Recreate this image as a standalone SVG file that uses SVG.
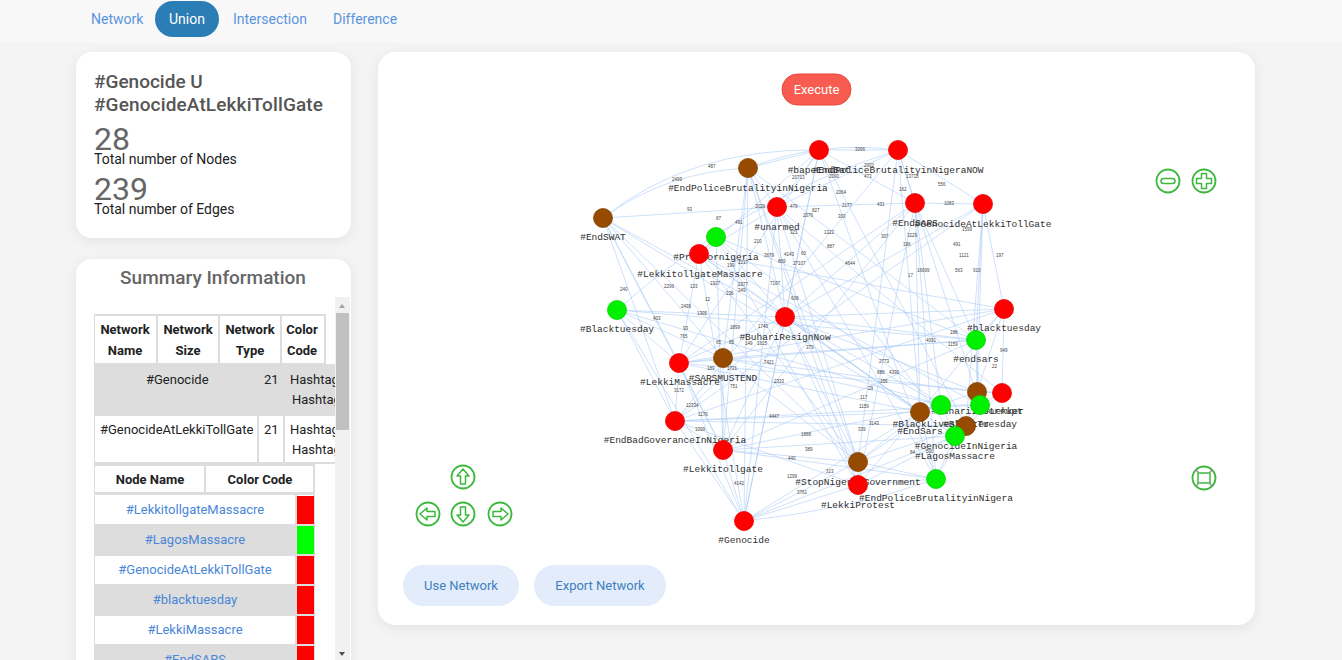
<svg xmlns="http://www.w3.org/2000/svg" width="1342" height="660" viewBox="0 0 1342 660">
<defs>
<filter id="sh" x="-10%" y="-10%" width="120%" height="130%"><feDropShadow dx="0" dy="3" stdDeviation="6" flood-color="#000" flood-opacity="0.07"/></filter>
<clipPath id="tc"><rect x="94" y="297" width="241" height="363"/></clipPath>
<style>
.ui{font-family:Roboto,"Liberation Sans",sans-serif}
.nav{font-size:14px;fill:#5b94de}
.hd{font-size:13px;font-weight:bold;fill:#222;text-anchor:middle}
.td{font-size:13px;fill:#222}
.lk{font-size:13px;fill:#4a86d8;text-anchor:middle}
.bd{fill:none;stroke:#dddddd;stroke-width:2}
.e{fill:none;stroke:#a6c8f5;stroke-opacity:.55;stroke-width:1}
.el{font-family:"Liberation Sans",sans-serif;font-size:4.5px;fill:#444}
.lb{font-family:"Liberation Mono",monospace;font-size:9.5px;fill:#2e2e2e;text-anchor:middle}
.r{fill:#ff0000;stroke:#e80000;stroke-width:.8}
.g{fill:#00f000;stroke:#00d800;stroke-width:.8}
.br{fill:#964b00;stroke:#864300;stroke-width:.8}
.ic{fill:#fff;stroke:#3cb83c;stroke-width:1.8}
.ia{fill:none;stroke:#3cb83c;stroke-width:1.5;stroke-linejoin:round}
</style>
</defs>
<rect width="1342" height="660" fill="#f4f4f4"/>
<rect width="1342" height="42" fill="#f8f8f8"/>

<g id="nav" class="ui">
<text class="nav" x="91" y="24">Network</text>
<rect x="155" y="1" width="64" height="36" rx="18" fill="#2a7db5"/>
<text x="187" y="24" font-size="14" fill="#fff" text-anchor="middle">Union</text>
<text class="nav" x="233" y="24">Intersection</text>
<text class="nav" x="333" y="24">Difference</text>
</g>

<g id="stats-card" class="ui">
<rect x="76" y="52" width="275" height="186" rx="16" fill="#fff" filter="url(#sh)"/>
<text x="94" y="88" font-size="19" font-weight="500" fill="#555">#Genocide U</text>
<text x="94" y="111" font-size="19" font-weight="500" fill="#555" textLength="229">#GenocideAtLekkiTollGate</text>
<text x="94" y="150" font-size="32" fill="#666">28</text>
<text x="94" y="164" font-size="14" fill="#222">Total number of Nodes</text>
<text x="94" y="200" font-size="32" fill="#666">239</text>
<text x="94" y="214" font-size="14" fill="#222">Total number of Edges</text>
</g>

<g id="summary-card" class="ui">
<rect x="76" y="259" width="275" height="440" rx="16" fill="#fff" filter="url(#sh)"/>
<text x="213" y="284" font-size="19" font-weight="500" fill="#666" text-anchor="middle">Summary Information</text>
<g clip-path="url(#tc)">
<rect x="94" y="364" width="241" height="51" fill="#dddddd"/>
<rect x="94" y="315" width="231" height="49" class="bd"/>
<path class="bd" d="M157 315V364M219 315V364M281 315V364"/>
<text class="hd" x="125" y="334">Network</text><text class="hd" x="125" y="355">Name</text>
<text class="hd" x="188" y="334">Network</text><text class="hd" x="188" y="355">Size</text>
<text class="hd" x="250" y="334">Network</text><text class="hd" x="250" y="355">Type</text>
<text class="hd" x="302" y="334">Color</text><text class="hd" x="302" y="355">Code</text>
<text class="td" x="146" y="384">#Genocide</text>
<text class="td" x="264" y="384">21</text>
<text class="td" x="290" y="384">Hashtag</text>
<text class="td" x="292" y="404">Hashtag</text>
<rect x="94" y="415" width="245" height="48" class="bd"/>
<path class="bd" d="M258 415V463M284 415V463"/>
<text class="td" x="100" y="434">#GenocideAtLekkiTollGate</text>
<text class="td" x="264" y="434">21</text>
<text class="td" x="290" y="434">Hashtag</text>
<text class="td" x="292" y="454">Hashtag</text>
<rect x="94" y="465" width="220" height="28" class="bd"/>
<path class="bd" d="M205 465V493"/>
<text class="hd" x="150" y="484">Node Name</text>
<text class="hd" x="260" y="484">Color Code</text>
<rect x="94" y="495" width="220" height="30" fill="#fff"/>
<rect x="94" y="525" width="220" height="30" fill="#dddddd"/>
<rect x="94" y="555" width="220" height="30" fill="#fff"/>
<rect x="94" y="585" width="220" height="30" fill="#dddddd"/>
<rect x="94" y="615" width="220" height="30" fill="#fff"/>
<rect x="94" y="645" width="220" height="30" fill="#dddddd"/>
<path d="M94 494H314M94 525H314M94 555H314M94 585H314M94 615H314M94 645H314M94 494V675M296 494V675M314 494V675" stroke="#dddddd" stroke-width="2" fill="none"/>
<rect x="297" y="496" width="17" height="28" fill="#ff0000"/>
<rect x="297" y="526" width="17" height="28" fill="#00ff00"/>
<rect x="297" y="556" width="17" height="28" fill="#ff0000"/>
<rect x="297" y="586" width="17" height="28" fill="#ff0000"/>
<rect x="297" y="616" width="17" height="28" fill="#ff0000"/>
<rect x="297" y="646" width="17" height="28" fill="#ff0000"/>
<text class="lk" x="195" y="514">#LekkitollgateMassacre</text>
<text class="lk" x="195" y="544">#LagosMassacre</text>
<text class="lk" x="195" y="574">#GenocideAtLekkiTollGate</text>
<text class="lk" x="195" y="604">#blacktuesday</text>
<text class="lk" x="195" y="634">#LekkiMassacre</text>
<text class="lk" x="195" y="664">#EndSARS</text>
</g>
<rect x="335" y="297" width="15" height="363" fill="#f1f1f1"/>
<rect x="336" y="313" width="13" height="117" fill="#c1c1c1"/>
<path d="M339 308L342 304L345 308Z" fill="#a3a3a3"/>
<path d="M339 652L345 652L342 656Z" fill="#505050"/>
</g>

<g id="graph-card" class="ui">
<rect x="378" y="52" width="877" height="573" rx="18" fill="#fff" filter="url(#sh)"/>
</g>

<g id="execute">
<rect x="782" y="74" width="69" height="31" rx="15.5" fill="#f85c50" stroke="#e8473b" stroke-width="1"/>
<text x="816.5" y="94" font-family="Roboto,'Liberation Sans',sans-serif" font-size="13" fill="#fff" text-anchor="middle">Execute</text>
</g>

<g id="connectors">
<path class="e" d="M603 218Q665 172 748 168"/>
<path class="e" d="M603 218Q690 148 819 150"/>
<path class="e" d="M603 218L777 207"/>
<path class="e" d="M603 218L785 317"/>
<path class="e" d="M603 218L679 363"/>
<path class="e" d="M603 218L675 421"/>
<path class="e" d="M603 218L858 462"/>
<path class="e" d="M603 218L920 412"/>
<path class="e" d="M603 218L723 358"/>
<path class="e" d="M603 218L723 450"/>
<path class="e" d="M748 168L819 150"/>
<path class="e" d="M748 168Q820 140 898 150"/>
<path class="e" d="M748 168L777 207"/>
<path class="e" d="M748 168L785 317"/>
<path class="e" d="M748 168L723 450"/>
<path class="e" d="M748 168L744 521"/>
<path class="e" d="M748 168L858 462"/>
<path class="e" d="M748 168L976 340"/>
<path class="e" d="M748 168L858 485"/>
<path class="e" d="M748 168L723 358"/>
<path class="e" d="M819 150L898 150"/>
<path class="e" d="M819 150L777 207"/>
<path class="e" d="M819 150L915 203"/>
<path class="e" d="M819 150L699 254"/>
<path class="e" d="M819 150L785 317"/>
<path class="e" d="M819 150L936 479"/>
<path class="e" d="M819 150L966 426"/>
<path class="e" d="M819 150L744 521"/>
<path class="e" d="M819 150L679 363"/>
<path class="e" d="M898 150L915 203"/>
<path class="e" d="M898 150L983 204"/>
<path class="e" d="M898 150L777 207"/>
<path class="e" d="M898 150L675 421"/>
<path class="e" d="M898 150L920 412"/>
<path class="e" d="M898 150L980 405"/>
<path class="e" d="M898 150L858 462"/>
<path class="e" d="M898 150Q740 200 617 310"/>
<path class="e" d="M777 207L915 203"/>
<path class="e" d="M777 207L785 317"/>
<path class="e" d="M777 207L699 254"/>
<path class="e" d="M777 207L858 462"/>
<path class="e" d="M777 207L936 479"/>
<path class="e" d="M777 207L955 436"/>
<path class="e" d="M777 207L744 521"/>
<path class="e" d="M777 207L1002 393"/>
<path class="e" d="M915 203L983 204"/>
<path class="e" d="M915 203L785 317"/>
<path class="e" d="M915 203L920 412"/>
<path class="e" d="M915 203L941 405"/>
<path class="e" d="M915 203L936 479"/>
<path class="e" d="M915 203L679 363"/>
<path class="e" d="M915 203L723 450"/>
<path class="e" d="M915 203L976 340"/>
<path class="e" d="M915 203L858 485"/>
<path class="e" d="M983 204L1004 309"/>
<path class="e" d="M983 204L976 340"/>
<path class="e" d="M983 204L977 392"/>
<path class="e" d="M983 204L785 317"/>
<path class="e" d="M983 204L675 421"/>
<path class="e" d="M983 204L966 426"/>
<path class="e" d="M716 237L699 254"/>
<path class="e" d="M716 237L785 317"/>
<path class="e" d="M716 237L941 405"/>
<path class="e" d="M716 237L858 485"/>
<path class="e" d="M716 237L976 340"/>
<path class="e" d="M716 237L723 450"/>
<path class="e" d="M699 254L679 363"/>
<path class="e" d="M699 254L785 317"/>
<path class="e" d="M699 254L920 412"/>
<path class="e" d="M699 254L980 405"/>
<path class="e" d="M699 254L744 521"/>
<path class="e" d="M699 254L858 462"/>
<path class="e" d="M699 254L1004 309"/>
<path class="e" d="M617 310L679 363"/>
<path class="e" d="M617 310L675 421"/>
<path class="e" d="M617 310L785 317"/>
<path class="e" d="M617 310L941 405"/>
<path class="e" d="M617 310L744 521"/>
<path class="e" d="M617 310L723 358"/>
<path class="e" d="M617 310L976 340"/>
<path class="e" d="M785 317L1004 309"/>
<path class="e" d="M785 317L976 340"/>
<path class="e" d="M785 317L679 363"/>
<path class="e" d="M785 317L675 421"/>
<path class="e" d="M785 317L723 450"/>
<path class="e" d="M785 317L744 521"/>
<path class="e" d="M785 317L858 462"/>
<path class="e" d="M785 317L920 412"/>
<path class="e" d="M785 317L941 405"/>
<path class="e" d="M785 317L977 392"/>
<path class="e" d="M785 317L955 436"/>
<path class="e" d="M785 317L858 485"/>
<path class="e" d="M1004 309L976 340"/>
<path class="e" d="M1004 309L977 392"/>
<path class="e" d="M1004 309L1002 393"/>
<path class="e" d="M1004 309L679 363"/>
<path class="e" d="M1004 309L675 421"/>
<path class="e" d="M1004 309L920 412"/>
<path class="e" d="M976 340L679 363"/>
<path class="e" d="M976 340L977 392"/>
<path class="e" d="M976 340L980 405"/>
<path class="e" d="M976 340L723 358"/>
<path class="e" d="M976 340L723 450"/>
<path class="e" d="M679 363L723 358"/>
<path class="e" d="M679 363L675 421"/>
<path class="e" d="M679 363L723 450"/>
<path class="e" d="M679 363L920 412"/>
<path class="e" d="M679 363L1002 393"/>
<path class="e" d="M679 363L744 521"/>
<path class="e" d="M723 358L941 405"/>
<path class="e" d="M723 358L723 450"/>
<path class="e" d="M723 358L858 462"/>
<path class="e" d="M723 358L977 392"/>
<path class="e" d="M675 421L723 450"/>
<path class="e" d="M675 421L744 521"/>
<path class="e" d="M675 421L920 412"/>
<path class="e" d="M675 421L980 405"/>
<path class="e" d="M675 421L858 485"/>
<path class="e" d="M675 421L966 426"/>
<path class="e" d="M723 450L744 521"/>
<path class="e" d="M723 450L858 462"/>
<path class="e" d="M723 450L941 405"/>
<path class="e" d="M723 450L955 436"/>
<path class="e" d="M723 450L936 479"/>
<path class="e" d="M744 521L858 462"/>
<path class="e" d="M744 521L858 485"/>
<path class="e" d="M744 521Q850 510 936 479"/>
<path class="e" d="M744 521L920 412"/>
<path class="e" d="M744 521L955 436"/>
<path class="e" d="M858 462L858 485"/>
<path class="e" d="M858 462L920 412"/>
<path class="e" d="M858 462L941 405"/>
<path class="e" d="M858 462L936 479"/>
<path class="e" d="M858 462L966 426"/>
<path class="e" d="M858 485L936 479"/>
<path class="e" d="M858 485L920 412"/>
<path class="e" d="M858 485L955 436"/>
<path class="e" d="M936 479L955 436"/>
<path class="e" d="M936 479L920 412"/>
<path class="e" d="M936 479L966 426"/>
<path class="e" d="M920 412L941 405"/>
<path class="e" d="M920 412L977 392"/>
<path class="e" d="M941 405L980 405"/>
<path class="e" d="M977 392L1002 393"/>
<path class="e" d="M1002 393L980 405"/>
<path class="e" d="M980 405L966 426"/>
<path class="e" d="M966 426L955 436"/>
<path class="e" d="M977 392L966 426"/>
<path class="e" d="M1002 393L955 436"/>
<path class="e" d="M941 405L955 436"/>
<g class="el">
<text x="708" y="168">487</text><text x="672" y="181">2499</text><text x="687" y="211">93</text><text x="716" y="220">87</text>
<text x="735" y="224">491</text><text x="755" y="208">2029</text><text x="790" y="208">479</text><text x="812" y="212">827</text>
<text x="803" y="217">2076</text><text x="792" y="179">20713</text><text x="754" y="243">210</text><text x="790" y="234">321</text>
<text x="764" y="257">3679</text><text x="784" y="256">4143</text><text x="801" y="255">60</text><text x="778" y="263">869</text>
<text x="793" y="265">27107</text><text x="738" y="264">2217</text><text x="727" y="267">199</text><text x="770" y="285">7107</text>
<text x="738" y="286">2377</text><text x="738" y="292">349</text><text x="710" y="285">1927</text><text x="726" y="295">236</text>
<text x="690" y="288">133</text><text x="664" y="288">2299</text><text x="620" y="291">240</text><text x="705" y="301">12</text>
<text x="791" y="300">608</text><text x="855" y="151">3066</text><text x="864" y="167">2002</text><text x="829" y="178">2090</text>
<text x="864" y="178">473</text><text x="906" y="178">13718</text><text x="899" y="191">162</text><text x="938" y="186">556</text>
<text x="836" y="194">2064</text><text x="842" y="207">2177</text><text x="877" y="206">431</text><text x="944" y="205">1083</text>
<text x="838" y="218">303</text><text x="824" y="234">1322</text><text x="881" y="238">307</text><text x="907" y="237">3229</text>
<text x="962" y="231">1599</text><text x="827" y="248">887</text><text x="903" y="246">196</text><text x="953" y="246">491</text>
<text x="959" y="257">1121</text><text x="996" y="257">197</text><text x="845" y="265">4644</text><text x="917" y="272">16699</text>
<text x="955" y="272">563</text><text x="973" y="272">910</text><text x="908" y="277">17</text><text x="653" y="320">403</text>
<text x="681" y="308">2499</text><text x="697" y="315">1305</text><text x="683" y="330">93</text><text x="680" y="338">765</text>
<text x="730" y="329">1899</text><text x="758" y="328">1740</text><text x="716" y="344">65</text><text x="729" y="344">85</text>
<text x="745" y="345">149</text><text x="757" y="345">1615</text><text x="806" y="349">379</text><text x="764" y="364">7421</text>
<text x="707" y="370">189</text><text x="727" y="370">1721</text><text x="774" y="383">2333</text><text x="730" y="388">751</text>
<text x="674" y="392">3172</text><text x="686" y="407">12334</text><text x="698" y="416">1176</text><text x="695" y="431">1099</text>
<text x="769" y="418">4447</text><text x="801" y="436">1888</text><text x="805" y="451">389</text><text x="788" y="460">440</text>
<text x="734" y="485">4142</text><text x="787" y="478">1299</text><text x="797" y="494">3761</text><text x="826" y="473">313</text>
<text x="950" y="334">188</text><text x="926" y="342">4091</text><text x="948" y="346">1159</text><text x="1000" y="352">949</text>
<text x="992" y="368">22</text><text x="879" y="363">2773</text><text x="877" y="374">888</text><text x="889" y="374">4390</text>
<text x="880" y="383">156</text><text x="868" y="390">29</text><text x="860" y="399">117</text><text x="859" y="408">1159</text>
<text x="869" y="425">3143</text><text x="858" y="431">339</text><text x="926" y="453">500</text><text x="910" y="454">84</text>
</g>
</g>

<g id="n-EndPoliceBrutalityinNigeria"><circle class="br" cx="748" cy="168" r="9.5"/><text class="lb" x="748" y="191">#EndPoliceBrutalityinNigeria</text></g>
<g id="n-bapeEndBat"><circle class="r" cx="819" cy="150" r="9.5"/><text class="lb" x="819" y="173">#bapeEndBat</text></g>
<g id="n-EndPoliceBrutalityinNigeraNOW"><circle class="r" cx="898" cy="150" r="9.5"/><text class="lb" x="898" y="173">#EndPoliceBrutalityinNigeraNOW</text></g>
<g id="n-EndSWAT"><circle class="br" cx="603" cy="218" r="9.5"/><text class="lb" x="603" y="240">#EndSWAT</text></g>
<g id="n-unarmed"><circle class="r" cx="777" cy="207" r="9.5"/><text class="lb" x="777" y="230">#unarmed</text></g>
<g id="n-EndSARS"><circle class="r" cx="915" cy="203" r="9.5"/><text class="lb" x="915" y="226">#EndSARS</text></g>
<g id="n-GenocideAtLekkiTollGate"><circle class="r" cx="983" cy="204" r="9.5"/><text class="lb" x="983" y="227">#GenocideAtLekkiTollGate</text></g>
<g id="n-Prayfornigeria"><circle class="g" cx="716" cy="237" r="9.5"/><text class="lb" x="716" y="260">#Prayfornigeria</text></g>
<g id="n-LekkitollgateMassacre"><circle class="r" cx="699" cy="254" r="9.5"/><text class="lb" x="700" y="277">#LekkitollgateMassacre</text></g>
<g id="n-Blacktuesday"><circle class="g" cx="617" cy="310" r="9.5"/><text class="lb" x="617" y="332">#Blacktuesday</text></g>
<g id="n-BuhariResignNow"><circle class="r" cx="785" cy="317" r="9.5"/><text class="lb" x="785" y="340">#BuhariResignNow</text></g>
<g id="n-blacktuesday"><circle class="r" cx="1004" cy="309" r="9.5"/><text class="lb" x="1004" y="331">#blacktuesday</text></g>
<g id="n-endsars"><circle class="g" cx="976" cy="340" r="9.5"/><text class="lb" x="976" y="362">#endsars</text></g>
<g id="n-LekkiMassacre"><circle class="r" cx="679" cy="363" r="9.5"/><text class="lb" x="680" y="385">#LekkiMassacre</text></g>
<g id="n-SARSMUSTEND"><circle class="br" cx="723" cy="358" r="9.5"/><text class="lb" x="723" y="381">#SARSMUSTEND</text></g>
<g id="n-EndBadGoveranceInNigeria"><circle class="r" cx="675" cy="421" r="9.5"/><text class="lb" x="675" y="443">#EndBadGoveranceInNigeria</text></g>
<g id="n-Lekkitollgate"><circle class="r" cx="723" cy="450" r="9.5"/><text class="lb" x="723" y="472">#Lekkitollgate</text></g>
<g id="n-Genocide"><circle class="r" cx="744" cy="521" r="9.5"/><text class="lb" x="744" y="543">#Genocide</text></g>
<g id="n-StopNigeriaGovernment"><circle class="br" cx="858" cy="462" r="9.5"/><text class="lb" x="858" y="485">#StopNigeriaGovernment</text></g>
<g id="n-LekkiProtest"><circle class="r" cx="858" cy="485" r="9.5"/><text class="lb" x="858" y="508">#LekkiProtest</text></g>
<g id="n-EndPoliceBrutalityinNigera"><circle class="g" cx="936" cy="479" r="9.5"/><text class="lb" x="936" y="501">#EndPoliceBrutalityinNigera</text></g>
<g id="n-EndSars"><circle class="br" cx="920" cy="412" r="9.5"/><text class="lb" x="920" y="434">#EndSars</text></g>
<g id="n-BuhariIs"><circle class="br" cx="977" cy="392" r="9.5"/><text class="lb" x="977" y="414">#BuhariIsCorrupt</text></g>
<g id="n-Lekker"><circle class="r" cx="1002" cy="393" r="9.5"/><text class="lb" x="1004" y="414">#Lekker</text></g>
<g id="n-BlackLivesMatter"><circle class="g" cx="941" cy="405" r="9.5"/><text class="lb" x="941" y="427">#BlackLivesMatter</text></g>
<g id="n-BlackTuesday"><circle class="g" cx="980" cy="405" r="9.5"/><text class="lb" x="980" y="427">#BlackTuesday</text></g>
<g id="n-GenocideInNigeria"><circle class="br" cx="966" cy="426" r="9.5"/><text class="lb" x="966" y="449">#GenocideInNigeria</text></g>
<g id="n-LagosMassacre"><circle class="g" cx="955" cy="436" r="9.5"/><text class="lb" x="955" y="459">#LagosMassacre</text></g>

<g id="zoom-controls">
<circle class="ic" cx="1168" cy="181" r="11.5"/>
<rect class="ia" x="1161" y="178.5" width="14" height="5" rx="2.5"/>
<circle class="ic" cx="1204" cy="181" r="11.5"/>
<path class="ia" d="M1201.5 173.5H1206.5V178.5H1211.5V183.5H1206.5V188.5H1201.5V183.5H1196.5V178.5H1201.5Z"/>
</g>
<g id="pan-controls">
<circle class="ic" cx="463" cy="477" r="11.5"/>
<path class="ia" d="M463 469L469 476H465.5V484H460.5V476H457Z"/>
<circle class="ic" cx="428" cy="514" r="11.5"/>
<path class="ia" d="M420 514L427 508V511.5H435V516.5H427V520Z"/>
<circle class="ic" cx="463" cy="514" r="11.5"/>
<path class="ia" d="M463 522L469 515H465.5V507H460.5V515H457Z"/>
<circle class="ic" cx="500" cy="514" r="11.5"/>
<path class="ia" d="M508 514L501 508V511.5H493V516.5H501V520Z"/>
</g>
<g id="fit-control">
<circle class="ic" cx="1204" cy="478" r="11.5"/>
<rect class="ia" x="1198" y="473" width="12" height="10" stroke-width="2"/>
<path d="M1195.5 469.5L1198.5 472.5M1212.5 469.5L1209.5 472.5M1195.5 486.5L1198.5 483.5M1212.5 486.5L1209.5 483.5" stroke="#8a8a8a" stroke-width="1.2"/>
</g>

<g id="buttons" class="ui">
<rect x="403" y="565" width="116" height="41" rx="20.5" fill="#e3ecfb"/>
<text x="461" y="590" font-size="13" fill="#3f7fbf" text-anchor="middle">Use Network</text>
<rect x="534" y="565" width="132" height="41" rx="20.5" fill="#e3ecfb"/>
<text x="600" y="590" font-size="13" fill="#3f7fbf" text-anchor="middle">Export Network</text>
</g>
</svg>
